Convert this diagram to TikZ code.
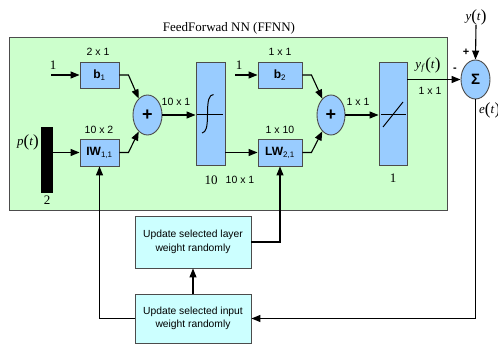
\documentclass[tikz,border=0pt]{standalone}
\usepackage{fontspec}
\setmainfont{Liberation Serif}
\setsansfont{Liberation Sans}
\usetikzlibrary{arrows.meta,shapes.geometric}
\definecolor{ffgreen}{RGB}{204,255,204}
\definecolor{blk}{RGB}{153,204,255}
\definecolor{cyb}{RGB}{204,255,255}
\newcommand{\bigpar}[1]{{\fontsize{17}{17}\selectfont\raisebox{-1pt}{#1}}}
\newcommand{\funcof}[2]{\textit{#1}\bigpar{(}\textit{t}\bigpar{)}}
\tikzset{
  blkbox/.style={draw=black!70, line width=0.9pt, fill=blk, inner sep=0pt, font=\sffamily\fontsize{12}{12}\selectfont},
  sumnode/.style={ellipse, draw=black!70, line width=0.9pt, fill=blk, inner sep=0pt},
  updbox/.style={draw=black!70, line width=0.9pt, fill=cyb, inner sep=0pt, align=center, font=\sffamily\fontsize{10.3}{13.5}\selectfont, minimum width=116pt},
  arr/.style={line width=1.1pt, -{Triangle[length=9pt,width=7pt]}},
  dimlab/.style={font=\sffamily\fontsize{10.5}{10.5}\selectfont, inner sep=0pt},
  serlab/.style={font=\fontsize{13}{13}\selectfont, inner sep=0pt}
}
\begin{document}
\begin{tikzpicture}[x=1pt,y=-1pt]
\useasboundingbox (0,0) rectangle (498,345);
% main green box
\node[draw=black!70, line width=0.9pt, fill=ffgreen, anchor=north west, minimum width=438pt, minimum height=173pt, inner sep=0pt] (ffnn) at (9,37) {};
\node[serlab] (title) at (229,28) {FeedForwad NN (FFNN)};
% blocks
\node[blkbox, minimum width=39pt, minimum height=26pt] (b1) at (99.5,75) {\textbf{b}\textsubscript{1}};
\node[blkbox, minimum width=39pt, minimum height=27pt] (iw) at (99.5,152.5) {\textbf{IW}\textsubscript{1,1}};
\node[draw=black, fill=black, minimum width=11pt, minimum height=65pt, inner sep=0pt] (bar) at (46.5,159.5) {};
\node[sumnode, minimum width=29pt, minimum height=40pt] (plus1) at (147.5,115) {\sffamily\bfseries\fontsize{18}{18}\selectfont +};
\node[blkbox, minimum width=29pt, minimum height=103pt] (sig) at (210.5,113.5) {};
\node[blkbox, minimum width=44pt, minimum height=26pt] (b2) at (280,75) {\textbf{b}\textsubscript{2}};
\node[blkbox, minimum width=44pt, minimum height=27pt] (lw) at (280,152.5) {\textbf{LW}\textsubscript{2,1}};
\node[sumnode, minimum width=28pt, minimum height=40pt] (plus2) at (331,115) {\sffamily\bfseries\fontsize{18}{18}\selectfont +};
\node[blkbox, minimum width=28pt, minimum height=103pt] (lin) at (393,113.5) {};
\node[sumnode, minimum width=29pt, minimum height=39pt] (sigma) at (475.5,79.5) {\sffamily\bfseries\fontsize{15}{15}\selectfont Σ};
\node[updbox, minimum height=52pt] (layer) at (193,242) {Update selected layer\\weight randomly};
\node[updbox, minimum height=49pt] (input) at (193,318.5) {Update selected input\\weight randomly};
% transfer function glyphs
\draw[line width=0.9pt] (197,114) -- (223,114);
\draw[line width=1pt] (213.5,94.5) .. controls (209,95) and (207.5,100) .. (207.5,114) .. controls (207.5,128) and (206,132) .. (202,133);
\draw[line width=0.9pt] (381,114) -- (406,114);
\draw[line width=1pt] (383,127) -- (403,102);
% labels
\node[serlab] (one1) at (53,65) {1};
\node[serlab] (one2) at (239,65) {1};
\node[serlab] (pt) at (28,142) {\funcof{p}{t}};
\node[serlab] (two) at (47,200) {2};
\node[dimlab] (d1) at (98,52) {2 x 1};
\node[dimlab] (d2) at (99,130) {10 x 2};
\node[dimlab] (d3) at (176,102) {10 x 1};
\node[serlab] (d4) at (211,180) {10};
\node[dimlab] (d5) at (240,180) {10 x 1};
\node[dimlab] (d6) at (280,52) {1 x 1};
\node[dimlab] (d7) at (280,130) {1 x 10};
\node[dimlab] (d8) at (358,102) {1 x 1};
\node[serlab] (d9) at (393,178) {1};
\node[serlab] (yf) at (428,65) {\textit{y}\textsubscript{\textit{f}}\bigpar{(}\textit{t}\bigpar{)}};
\node[dimlab] (d10) at (430,91) {1 x 1};
\node[serlab] (yt) at (476,17) {\funcof{y}{t}};
\node[dimlab, font=\sffamily\bfseries\fontsize{11}{11}\selectfont] (pl) at (466,52) {+};
\node[dimlab, font=\sffamily\bfseries\fontsize{11}{11}\selectfont] (mi) at (455,70) {-};
\node[serlab, anchor=west] (et) at (479,110) {\funcof{e}{t}};
% connectors
\coordinate (in1) at (51,75);
\coordinate (in2) at (235,75);
\draw[arr] (in1) -- (b1.west);
\draw[arr] (bar.east |- iw.west) -- (iw.west);
\draw[arr] (b1.east) -- ++(9,0) -- (plus1.118);
\draw[arr] (iw.east) -- ++(9,0) -- (plus1.242);
\draw[arr] (plus1.east) -- (plus1.east -| sig.west);
\draw[arr] (sig.east |- lw.west) -- (lw.west);
\draw[arr] (in2) -- (b2.west);
\draw[arr] (b2.east) -- ++(9,0) -- (plus2.118);
\draw[arr] (lw.east) -- ++(9,0) -- (plus2.242);
\draw[arr] (plus2.east) -- (plus2.east -| lin.west);
\draw[arr] (lin.east |- sigma.west) -- (sigma.west);
\draw[arr] (yt.south) -- (sigma.north);
\draw[arr] (sigma.south) |- (input.east);
\draw[arr] (input.north) -- (layer.south);
\draw[arr] (layer.east) -| (lw.south);
\draw[arr] (input.west) -| (iw.south);
\end{tikzpicture}
\end{document}
